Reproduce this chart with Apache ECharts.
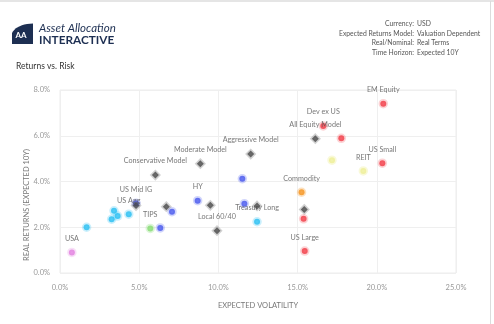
<!DOCTYPE html>
<html>
<head>
<meta charset="utf-8">
<script src="https://cdn.jsdelivr.net/npm/echarts@6/dist/echarts.min.js"></script>
<style>
html,body{margin:0;padding:0;background:#fff;}
#c{width:494px;height:324px;}
</style>
</head>
<body>
<div id="c"></div>
<script>
// ---- Data ----
const names = ['USA','','','','','US Agg','US Mid IG','','','','TIPS','','HY','','Local 60/40',
  'Conservative Model','Moderate Model','Aggressive Model','','','','Treasury Long','Commodity','','','US Large',
  'All Equity Model','Dev ex US','','','REIT','US Small','EM Equity'];
const volatility = [0.75,1.68,3.41,3.64,3.26,4.34,4.80,4.80,6.71,7.07,5.70,6.33,8.69,9.49,9.91,
  6.02,8.86,12.04,11.51,11.64,12.44,12.44,15.25,15.42,15.38,15.45,
  16.12,16.62,17.76,17.17,19.15,20.35,20.41];
const returns = [0.90,2.00,2.72,2.49,2.35,2.57,3.05,2.95,2.90,2.68,1.95,1.97,3.16,2.96,1.85,
  4.28,4.78,5.20,4.12,3.03,2.93,2.24,3.53,2.78,2.37,0.96,
  5.87,6.43,5.89,4.93,4.46,4.80,7.40];
const groups = ['pink','cyan','cyan','cyan','cyan','cyan','blue','model','model','blue','green','blue','blue','model','model',
  'model','model','model','blue','blue','model','cyan','orange','model','red','red',
  'model','red','red','yellow','yellow','red','red'];
const xTicks = [0,5,10,15,20,25];
const yTicks = [0,2,4,6,8];

const headerLabels = ['Currency:','Expected Returns Model:','Real/Nominal:','Time Horizon:'];
const headerValues = ['USD','Valuation Dependent','Real Terms','Expected 10Y'];

const groupColors = {
  pink:['#e27ee0','rgba(226,126,224,0.3)'],
  cyan:['#27bff2','rgba(39,191,242,0.3)'],
  blue:['#4656ee','rgba(70,86,238,0.3)'],
  green:['#86dc72','rgba(134,220,114,0.35)'],
  orange:['#f6921c','rgba(246,146,28,0.35)'],
  red:['#f23a45','rgba(242,58,69,0.28)'],
  yellow:['#eeef96','rgba(238,239,150,0.45)'],
  model:['#444444','rgba(90,90,90,0.35)']
};
const groupOrder = ['pink','cyan','blue','green','orange','red','yellow','model'];

const FONT = 'Lato, "Open Sans", sans-serif';

const series = groupOrder.map(g => {
  const data = [];
  for (let i = 0; i < names.length; i++) {
    if (groups[i] === g) data.push({value:[volatility[i], returns[i]], name:names[i]});
  }
  const isModel = g === 'model';
  return {
    type:'scatter',
    name:g,
    z: isModel ? 5 : 2,
    symbol: isModel ? 'diamond' : 'circle',
    symbolSize: isModel ? 7 : 6,
    data,
    itemStyle:{color:groupColors[g][0], borderColor:groupColors[g][1], borderWidth:isModel ? 3 : 3.5},
    label:{
      show:true, position:'top', distance:4,
      formatter: p => p.name,
      fontFamily:FONT, fontSize:7.2, color:'#555', lineHeight:10
    },
    emphasis:{disabled:true}
  };
});

// logo outline (decorative shape)
const logoPts = [[12,44],[33,44]];
for (let k = 0; k <= 10; k++) {
  const t = k / 10;
  const x = (1-t)*(1-t)*33 + 2*(1-t)*t*17 + t*t*12;
  const y = (1-t)*(1-t)*23.5 + 2*(1-t)*t*24 + t*t*33;
  logoPts.push([x, y]);
}

const chart = echarts.init(document.getElementById('c'), null, {renderer:'canvas'});

const graphics = [
  {type:'line', shape:{x1:0,y1:1,x2:494,y2:1}, style:{stroke:'#dcdcdc', lineWidth:1.5}, silent:true},
  {type:'line', shape:{x1:490.5,y1:1,x2:490.5,y2:324}, style:{stroke:'#dcdcdc', lineWidth:1}, silent:true},
  {type:'polygon', shape:{points:logoPts}, style:{fill:'#1d2f52'}, silent:true},
  {type:'text', x:15.5, y:31.5, style:{text:'AA', fill:'#fff', font:'bold 8px ' + FONT}, silent:true},
  {type:'text', x:39, y:22, style:{text:'Asset Allocation', fill:'#1d2f52', font:'italic 11.5px ' + FONT}, silent:true},
  {type:'text', x:39, y:34.5, style:{text:'INTERACTIVE', fill:'#1d2f52', font:'bold 11.8px ' + FONT}, silent:true},
  {type:'text', x:16, y:62, style:{text:'Returns vs. Risk', fill:'#333', font:'8.5px ' + FONT}, silent:true},
  {type:'text', x:27, y:205, rotation:Math.PI/2, style:{text:'REAL RETURNS (EXPECTED 10Y)', fill:'#777', font:'7.5px ' + FONT, align:'center', verticalAlign:'middle'}, silent:true}
];
headerLabels.forEach((t, i) => {
  const y = 24 + i * 9.5;
  graphics.push({type:'text', x:414, y:y, style:{text:t, fill:'#555', font:'6.8px ' + FONT, align:'right', verticalAlign:'middle'}, silent:true});
  graphics.push({type:'text', x:417, y:y, style:{text:headerValues[i], fill:'#555', font:'6.8px ' + FONT, align:'left', verticalAlign:'middle'}, silent:true});
});

chart.setOption({
  animation:false,
  backgroundColor:'#fff',
  grid:{left:60, right:38, top:90, bottom:51, show:true, borderColor:'#ececec', borderWidth:1},
  xAxis:{
    type:'value', min:xTicks[0], max:xTicks[xTicks.length-1], interval:5,
    name:'EXPECTED VOLATILITY', nameLocation:'middle', nameGap:29,
    nameTextStyle:{fontFamily:FONT, fontSize:7.5, color:'#777'},
    axisLine:{show:false}, axisTick:{show:false},
    axisLabel:{formatter:v => v.toFixed(1) + '%', fontFamily:FONT, fontSize:7.5, color:'#999', margin:11},
    splitLine:{show:true, lineStyle:{color:'#efefef', width:1}}
  },
  yAxis:{
    type:'value', min:yTicks[0], max:yTicks[yTicks.length-1], interval:2,
    axisLine:{show:false}, axisTick:{show:false},
    axisLabel:{formatter:v => v.toFixed(1) + '%', fontFamily:FONT, fontSize:7.5, color:'#999', margin:10},
    splitLine:{show:true, lineStyle:{color:'#efefef', width:1}}
  },
  graphic:{elements:graphics},
  series
});
</script>
</body>
</html>
